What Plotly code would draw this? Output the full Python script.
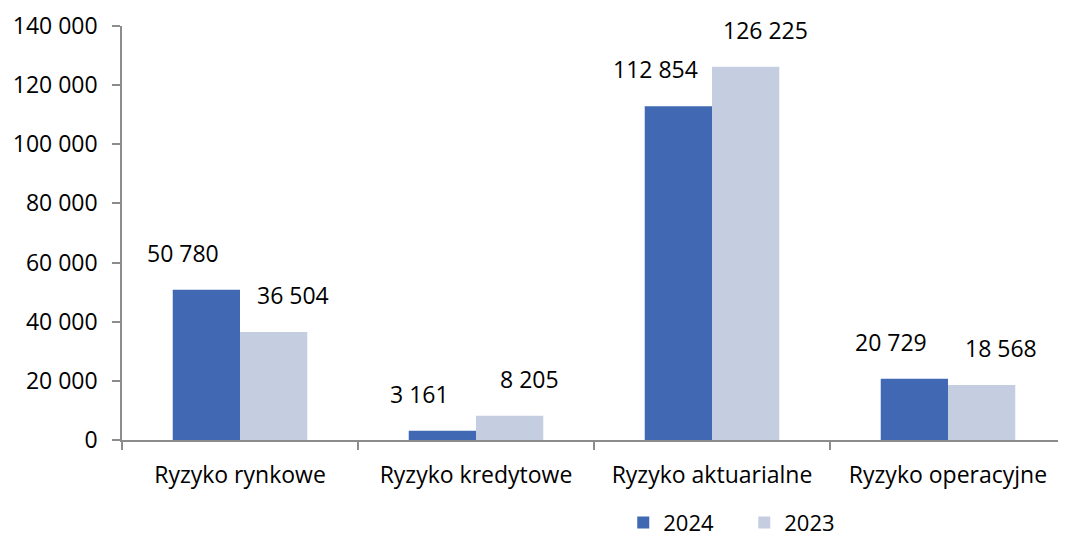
import plotly.graph_objects as go

categories = ["Ryzyko rynkowe", "Ryzyko kredytowe", "Ryzyko aktuarialne", "Ryzyko operacyjne"]
values_2024 = [50780, 3161, 112854, 20729]
values_2023 = [36504, 8205, 126225, 18568]
y_ticks = [0, 20000, 40000, 60000, 80000, 100000, 120000, 140000]

FONT = "Open Sans"
SIZE = 23
DARK = "#4169B3"
LIGHT = "#C5CDE1"
AXIS = "#8C8C8C"

fig = go.Figure()
fig.add_trace(go.Bar(name="2024", x=categories, y=values_2024, marker_color=DARK, marker_line_width=0))
fig.add_trace(go.Bar(name="2023", x=categories, y=values_2023, marker_color=LIGHT, marker_line_width=0))

# data labels, pushed a little outward like in the original
annotations = []
for cat, v in zip(categories, values_2024):
    annotations.append(dict(x=cat, y=v, text=f"{v:,}".replace(",", " "), showarrow=False,
                            xshift=-57, yshift=19, yanchor="bottom",
                            font=dict(family=FONT, size=SIZE, color="#000")))
for cat, v in zip(categories, values_2023):
    annotations.append(dict(x=cat, y=v, text=f"{v:,}".replace(",", " "), showarrow=False,
                            xshift=53, yshift=19, yanchor="bottom",
                            font=dict(family=FONT, size=SIZE, color="#000")))

fig.update_layout(
    barmode="group",
    bargap=0.43,
    bargroupgap=0,
    width=1058,
    height=533,
    margin=dict(l=114, r=0, t=18, b=101, autoexpand=False),
    paper_bgcolor="white",
    plot_bgcolor="white",
    separators=", ",
    font=dict(family=FONT, size=SIZE, color="#000"),
    annotations=annotations,
    legend=dict(orientation="h", x=0.531, y=-0.2, xanchor="left", yanchor="middle",
                font=dict(size=22), entrywidth=76, entrywidthmode="pixels",
                traceorder="normal"),
)
fig.update_yaxes(
    range=[0, 140000],
    tickvals=y_ticks,
    tickformat=",d",
    showgrid=False,
    zeroline=False,
    showline=True,
    linecolor=AXIS,
    linewidth=1.5,
    ticks="outside",
    ticklen=8,
    tickcolor=AXIS,
    tickwidth=1.5,
    ticklabelstandoff=10,
)
fig.update_xaxes(
    showgrid=False,
    showline=True,
    linecolor=AXIS,
    linewidth=1.5,
    ticks="outside",
    tickson="boundaries",
    ticklen=8,
    tickcolor=AXIS,
    tickwidth=1.5,
    ticklabelstandoff=14,
)

fig.write_html("out.html")
